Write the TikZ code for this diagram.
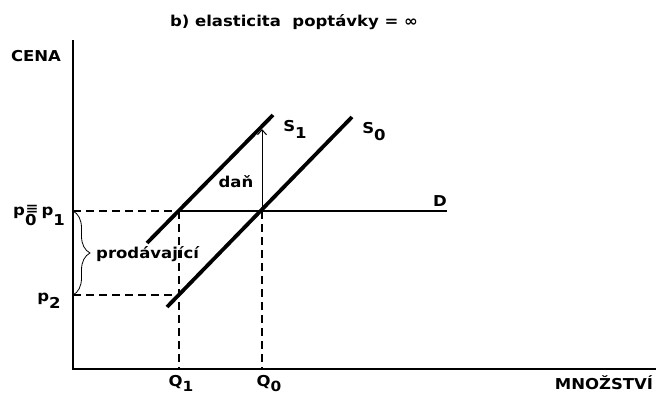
\documentclass[tikz,border=0pt]{standalone}
\usepackage{fontspec}
\setmainfont{DejaVu Sans}[FakeStretch=1.1]
\usetikzlibrary{arrows.meta,decorations.pathreplacing}
\newcommand{\lowsub}[1]{\raisebox{-7pt}{#1}}
\newcommand{\eqsub}[1]{\makebox[0pt][l]{\raisebox{2pt}{\fontsize{14}{16}\selectfont\kern0.5pt≡}}\raisebox{-10pt}{#1}}

\begin{document}
\begin{tikzpicture}[x=1pt, y=-1pt, font=\bfseries\fontsize{15}{17}\selectfont,
    axis/.style={line width=2.6pt},
    supply/.style={line width=3.8pt},
    demand/.style={line width=2.6pt},
    guide/.style={line width=2.4pt, dash pattern=on 8pt off 5pt},
    taxarrow/.style={line width=1pt, -{Straight Barb[length=5pt,width=9pt]}},
    bracket/.style={line width=0.8pt, decorate, decoration={brace, amplitude=17pt}},
    lbl/.style={inner sep=0pt}]
  \useasboundingbox (0,0) rectangle (656,394);
  % points of the diagram
  \coordinate (O) at (73,369);
  \coordinate (ytop) at (73,40);
  \coordinate (xend) at (656,369);
  \coordinate (P1) at (73,211);
  \coordinate (P2) at (73,295);
  \coordinate (E1) at (179,211);
  \coordinate (E0) at (262,211);
  \coordinate (E2) at (179,295);
  \coordinate (Dend) at (447,211);
  \coordinate (S1a) at (147,243);
  \coordinate (S1b) at (273,115);
  \coordinate (S0a) at (167,307);
  \coordinate (S0b) at (352,117);
  \coordinate (T) at (262,129);
  \coordinate (Q1) at (179,369);
  \coordinate (Q0) at (262,369);
  % axes and lines
  \draw[axis] (ytop) -- (O) -- (xend);
  \draw[guide] (P1) -- (E1);
  \draw[guide] (P2) -- (E2);
  \draw[guide] (E1) -- (Q1);
  \draw[guide] (E0) -- (Q0);
  \draw[demand] (E1) -- (Dend);
  \draw[supply] (S1a) -- (S1b);
  \draw[supply] (S0a) -- (S0b);
  \draw[taxarrow] (E0) -- (T);
  \draw[bracket] (P1) -- (P2);
  % labels
  \node[lbl] (title) at (294,22) {b) elasticita\ \ poptávky = ∞};
  \node[lbl] (cena) at (36,56) {CENA};
  \node[lbl] (mnozstvi) at (604,383) {MNOŽSTVÍ};
  \node[lbl, anchor=base] (lq1) at (181,386) {Q{\fontsize{14}{16}\selectfont\raisebox{-5.5pt}{1}}};
  \node[lbl, anchor=base] (lq0) at (269,386) {Q{\fontsize{14}{16}\selectfont\raisebox{-5.5pt}{0}}};
  \node[lbl, anchor=base] (lp01) at (39,215) {p\eqsub{0}\kern5pt p\raisebox{-10pt}{1}};
  \node[lbl] (lp2) at (49,301) {p\lowsub{2}};
  \node[lbl] (lS1) at (295,129) {S\lowsub{1}};
  \node[lbl] (lS0) at (374,132) {S\lowsub{0}};
  \node[lbl] (lD) at (440,201) {D};
  \node[lbl] (ldan) at (236,182) {daň};
  \node[lbl, anchor=west] (lprod) at (96,254) {prodávající};
\end{tikzpicture}
\end{document}
